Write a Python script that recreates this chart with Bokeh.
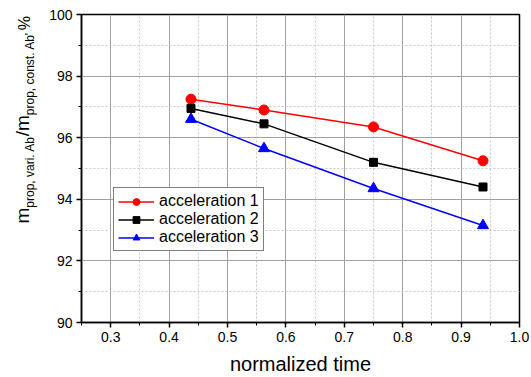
import math
from bokeh.plotting import figure
from bokeh.layouts import row
from bokeh.models import FixedTicker, PrintfTickFormatter, Label, Legend, LegendItem, Range1d
from bokeh.embed import file_html
from bokeh.resources import INLINE

# ---- data ----
times = [0.4375, 0.5625, 0.75, 0.9375]
acc1 = [97.25, 96.9, 96.35, 95.25]
acc2 = [96.95, 96.45, 95.2, 94.4]
acc3 = [96.6, 95.65, 94.35, 93.15]
series_names = ["acceleration 1", "acceleration 2", "acceleration 3"]
x_ticks = [0.3, 0.4, 0.5, 0.6, 0.7, 0.8, 0.9, 1.0]
x_minor = [0.25, 0.35, 0.45, 0.55, 0.65, 0.75, 0.85, 0.95]
y_ticks = [90, 92, 94, 96, 98, 100]
y_minor = [91, 93, 95, 97, 99]

FONT = "Liberation Sans"
LW = 42  # width of the strip holding the y-axis title

p = figure(width=531 - LW, height=377, output_backend="svg", toolbar_location=None,
           x_range=Range1d(0.25, 1.0), y_range=Range1d(90, 100),
           min_border_left=81 - LW, min_border_right=12, min_border_top=14, min_border_bottom=53)
p.background_fill_color = "white"
p.border_fill_color = "white"
p.outline_line_color = "black"
p.outline_line_width = 1.5

for ax, tk, mn, fmt in [(p.xaxis[0], x_ticks, x_minor, "%.1f"), (p.yaxis[0], y_ticks, y_minor, "%d")]:
    ax.ticker = FixedTicker(ticks=tk, minor_ticks=mn)
    ax.formatter = PrintfTickFormatter(format=fmt)
    ax.axis_line_color = "black"
    ax.axis_line_width = 1.5
    ax.major_tick_line_color = "black"
    ax.major_tick_line_width = 1.5
    ax.minor_tick_line_color = "black"
    ax.minor_tick_line_width = 1
    ax.major_tick_in = 0
    ax.major_tick_out = 5
    ax.minor_tick_in = 0
    ax.minor_tick_out = 3
    ax.major_label_text_font = FONT
    ax.major_label_text_font_size = "14px"
    ax.major_label_text_color = "black"
    ax.major_label_standoff = 4

p.xaxis.axis_label = "normalized time"
p.xaxis.axis_label_text_font = FONT
p.xaxis.axis_label_text_font_size = "20px"
p.xaxis.axis_label_text_font_style = "normal"
p.xaxis.axis_label_text_color = "black"
p.xaxis.axis_label_standoff = 8

for g, tk, mn in [(p.xgrid[0], x_ticks, x_minor), (p.ygrid[0], y_ticks, y_minor)]:
    g.ticker = FixedTicker(ticks=tk, minor_ticks=mn)
    g.grid_line_color = "#a0a0a0"
    g.grid_line_width = 1
    g.minor_grid_line_color = "#c8c8c8"
    g.minor_grid_line_dash = "2 2"
    g.minor_grid_line_width = 1

colors = ["#ff0000", "#000000", "#0000ff"]
markers = ["circle", "square", "triangle"]
sizes = [10, 8, 11]
items = []
for name, ys, c, m, s in zip(series_names, [acc1, acc2, acc3], colors, markers, sizes):
    r1 = p.line(times, ys, line_color=c, line_width=1.5)
    r2 = p.scatter(times, ys, marker=m, size=s, fill_color=c, line_color=c)
    items.append(LegendItem(label=name, renderers=[r1, r2]))

legend = Legend(items=items, location=(32, 71))
legend.label_text_font = FONT
legend.label_text_font_size = "16px"
legend.label_text_color = "black"
legend.border_line_color = "black"
legend.border_line_width = 1
legend.background_fill_color = "white"
legend.background_fill_alpha = 1
legend.padding = 4
legend.margin = 0
legend.spacing = 0
legend.glyph_width = 36
legend.glyph_height = 17
legend.label_height = 17
legend.label_standoff = 5
p.add_layout(legend, "center")

# ---- strip with the rotated y-axis title (main text + subscripts) ----
lf = figure(width=LW, height=377, output_backend="svg", toolbar_location=None,
            x_axis_type=None, y_axis_type=None, x_range=Range1d(0, 1), y_range=Range1d(0, 1),
            min_border_left=0, min_border_right=0, min_border_top=0, min_border_bottom=0)
lf.outline_line_color = None
lf.background_fill_color = "white"
lf.border_fill_color = "white"
lf.grid.visible = False

W = {"m": .833, "p": .556, "r": .333, "o": .556, ",": .278, " ": .278, "v": .5, "a": .556,
     "i": .222, ".": .278, "A": .667, "b": .556, "/": .278, "c": .5, "n": .556, "s": .5,
     "t": .278, "'": .191, "%": .889}

def tw(s, fs):
    return sum(W.get(ch, .556) for ch in s) * fs

pieces = [("m", 19, 22), ("prop, vari. Ab", 12, 29), ("/m", 19, 22),
          ("prop, const. Ab'", 12, 29), ("%", 16, 24)]
ypos = 99
for txt, fs, bx in pieces:
    if txt == "%":
        ypos += 2
    lf.add_layout(Label(x=bx, y=ypos, x_units="screen", y_units="screen", text=txt,
                        angle=math.pi / 2, text_font=FONT, text_font_size=f"{fs}px",
                        text_color="black", text_align="left", text_baseline="alphabetic"))
    ypos += tw(txt, fs)

layout = row(lf, p, spacing=0)
open("out.html", "w").write(file_html(layout, INLINE))
